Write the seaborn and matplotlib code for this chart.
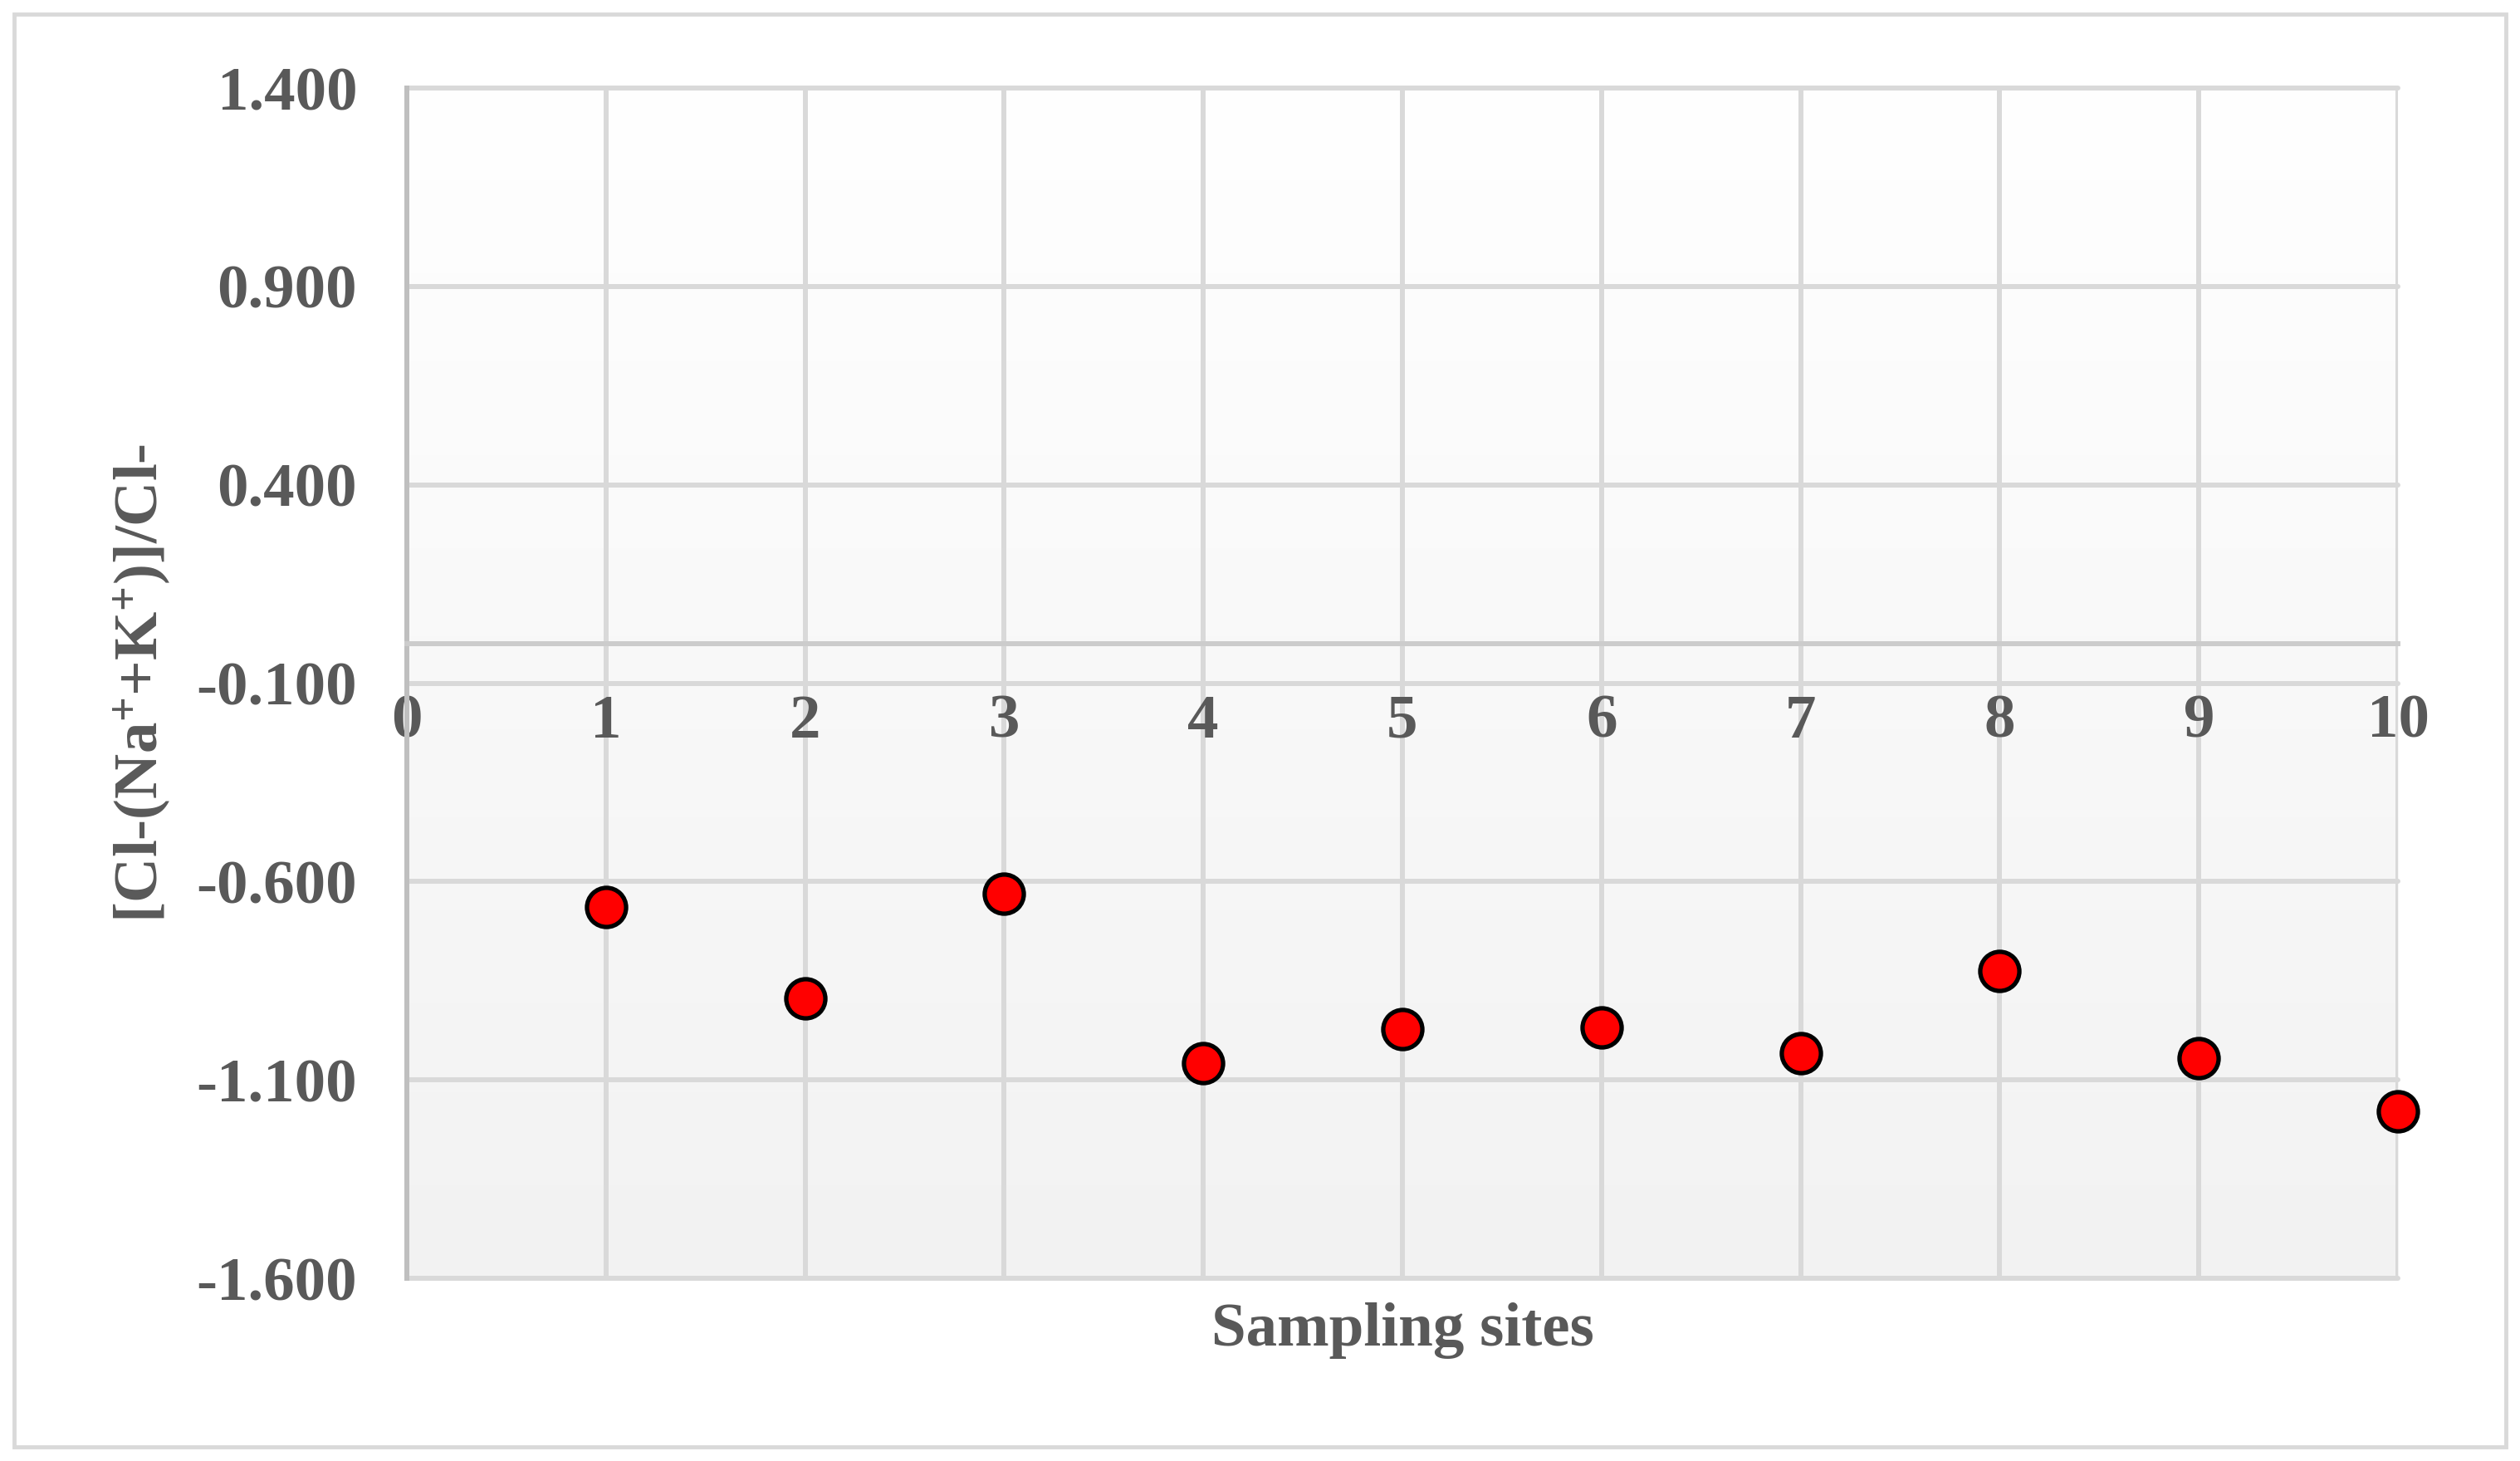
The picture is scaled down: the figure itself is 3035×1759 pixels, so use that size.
import numpy as np
import matplotlib
matplotlib.use("Agg")
import matplotlib.pyplot as plt
import seaborn as sns
from matplotlib.patches import Rectangle

# values
sites = [1, 2, 3, 4, 5, 6, 7, 8, 9, 10]
ratio = [-0.664, -0.895, -0.631, -1.057, -0.972, -0.968, -1.032, -0.826, -1.045, -1.178]
y_ticks = [-1.6, -1.1, -0.6, -0.1, 0.4, 0.9, 1.4]
x_ticks = [0, 1, 2, 3, 4, 5, 6, 7, 8, 9, 10]

sns.set_style("white")
plt.rcParams['font.family'] = ['Liberation Serif', 'DejaVu Serif']
plt.rcParams['font.weight'] = 'bold'
plt.rcParams['mathtext.fontset'] = 'custom'
plt.rcParams['mathtext.rm'] = 'Liberation Serif:bold'
plt.rcParams['mathtext.it'] = 'Liberation Serif:bold'
plt.rcParams['mathtext.bf'] = 'Liberation Serif:bold'

txt = '#595959'
grid_c = '#d9d9d9'
fs = 54

fig = plt.figure(figsize=(30.35, 17.59), dpi=100)
ax = fig.add_axes([0.1614, 0.125, 0.7902, 0.8147])

# soft vertical gradient in the plot area
grad = np.linspace(0, 1, 256).reshape(-1, 1)
cmap = matplotlib.colors.LinearSegmentedColormap.from_list('g', ['#ffffff', '#f2f2f2'])
ax.imshow(grad, cmap=cmap, aspect='auto', extent=[0, 1, 0, 1],
          transform=ax.transAxes, zorder=0, origin='upper')

sns.scatterplot(x=sites, y=ratio, ax=ax, color='#ff0000', edgecolor='black',
                linewidth=3.8, s=1150, zorder=4, clip_on=False, legend=False)

ax.set_xlim(0, 10)
ax.set_ylim(-1.6, 1.4)
ax.set_xticks(x_ticks)
ax.set_yticks(y_ticks)
ax.set_yticklabels([f'{v:.3f}' for v in y_ticks])
ax.set_xticklabels([str(v) for v in x_ticks])

ax.set_axisbelow(True)
ax.grid(True, color=grid_c, lw=4.3)
for ln in ax.get_xgridlines() + ax.get_ygridlines():
    ln.set_clip_on(False)

for s in ['top', 'right']:
    ax.spines[s].set_visible(False)
ax.spines['left'].set_color('#bfbfbf')
ax.spines['left'].set_linewidth(4.3)
ax.spines['bottom'].set_position(('data', 0))
ax.spines['bottom'].set_color('#cccccc')
ax.spines['bottom'].set_linewidth(4.3)
ax.spines['left'].set_zorder(3)
ax.spines['bottom'].set_zorder(3)

ax.tick_params(axis='both', length=0, labelsize=fs, labelcolor=txt)
ax.tick_params(axis='x', pad=44)
ax.tick_params(axis='y', pad=43)

ax.set_xlabel('Sampling sites', fontsize=fs, color=txt, fontweight='bold')
ax.xaxis.set_label_coords(0.5, -0.02)
ax.xaxis.label.set_va('top')
ax.set_ylabel(r'[Cl-(Na$^{+}$+K$^{+}$)]/Cl-', fontsize=fs, color=txt, fontweight='bold')
ax.yaxis.set_label_coords(-0.117, 0.5)

fig.patches.append(Rectangle((17 / 3035, 17 / 1759), (3018 - 17) / 3035, (1742 - 17) / 1759,
                             transform=fig.transFigure, fill=False, ec='#d9d9d9', lw=3.5))

fig.savefig('out.png', dpi=100, facecolor='white')
